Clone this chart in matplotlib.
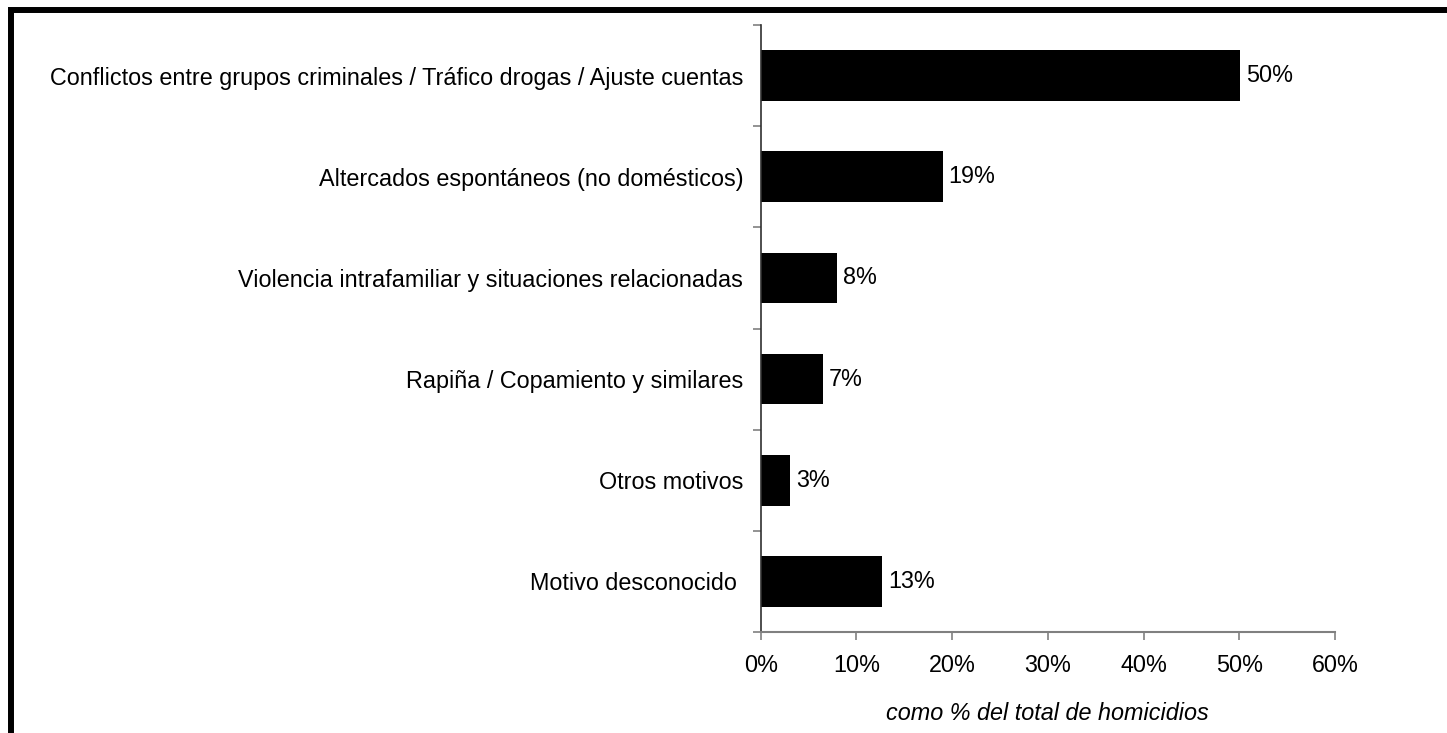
import matplotlib
matplotlib.use("Agg")
import matplotlib.pyplot as plt
from matplotlib.patches import Rectangle
import numpy as np

plt.rcParams['font.family'] = ['Liberation Sans', 'DejaVu Sans']

categories = [
    "Conflictos entre grupos criminales / Tráfico drogas / Ajuste cuentas",
    "Altercados espontáneos (no domésticos)",
    "Violencia intrafamiliar y situaciones relacionadas",
    "Rapiña / Copamiento y similares",
    "Otros motivos",
    "Motivo desconocido ",
]
values = [50.1, 19.0, 8.0, 6.5, 3.1, 12.7]
value_labels = ["50%", "19%", "8%", "7%", "3%", "13%"]
xticks = [0, 10, 20, 30, 40, 50, 60]
xtick_labels = ["0%", "10%", "20%", "30%", "40%", "50%", "60%"]
xlabel = "como % del total de homicidios"

FS = 16.8
W, H = 1447, 733
fig = plt.figure(figsize=(W / 100, H / 100), dpi=100)
ax = fig.add_axes([760.7 / W, 1 - 632 / H, (1335 - 760.7) / W, (632 - 25) / H])

n = len(categories)
y = np.arange(n)
ax.barh(y, values, height=0.5, color='black')
ax.set_ylim(n - 0.5, -0.5)
ax.set_xlim(0, 60)

for yi, v, lab in zip(y, values, value_labels):
    ax.annotate(lab, (v, yi), xytext=(4.0, 0), textcoords='offset points',
                va='center', ha='left', fontsize=FS)

ax.set_yticks(y)
ax.set_yticklabels(categories, fontsize=FS)
ax.tick_params(axis='y', which='major', length=0, pad=12.5)
ax.set_yticks(np.arange(n + 1) - 0.5, minor=True)
ax.tick_params(axis='y', which='minor', length=6, width=1.2, color='#808080', direction='out')

ax.set_xticks(xticks)
ax.set_xticklabels(xtick_labels, fontsize=FS)
ax.tick_params(axis='x', length=6, width=1.2, color='#808080', pad=10)

for s in ['top', 'right']:
    ax.spines[s].set_visible(False)
ax.spines['left'].set_color('#303030')
ax.spines['left'].set_linewidth(1.2)
ax.spines['bottom'].set_color('#808080')
ax.spines['bottom'].set_linewidth(1.5)

ax.set_xlabel(xlabel, fontsize=FS, style='italic', labelpad=18)

# outer frame (extends past right and bottom edges)
fig.patches.append(Rectangle((10.5 / W, -0.1), 1.2, (1 - 10.5 / H) + 0.1,
                             transform=fig.transFigure, fill=False,
                             edgecolor='black', linewidth=4.3, zorder=10))

fig.savefig("out.png", dpi=100)
